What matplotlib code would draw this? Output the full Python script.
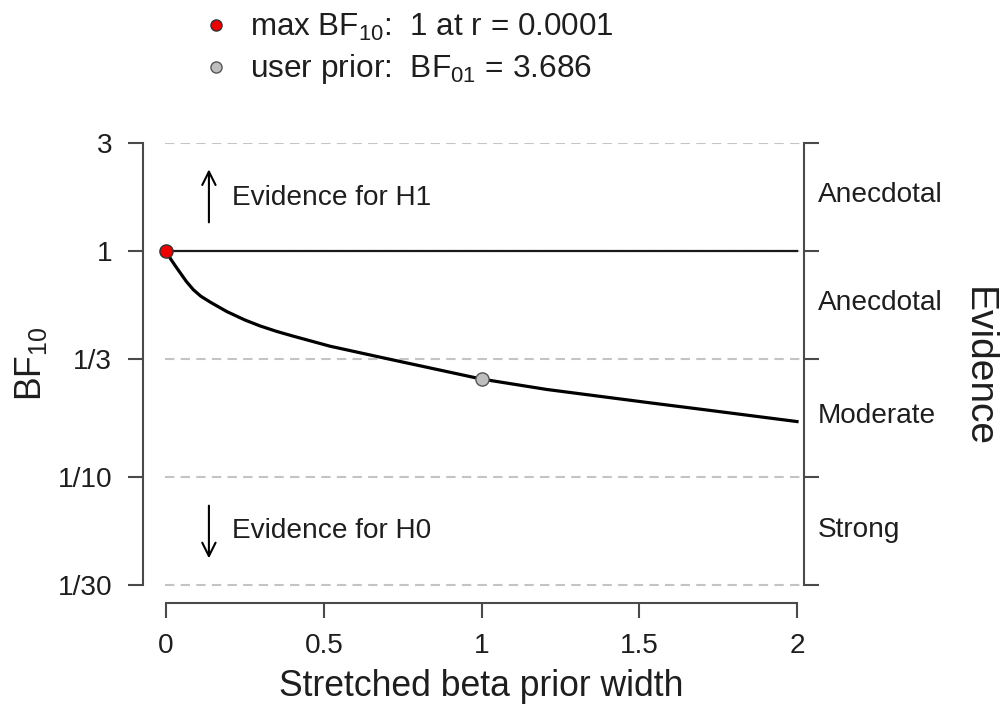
import numpy as np
import matplotlib
matplotlib.use("Agg")
from matplotlib import pyplot as plt
from matplotlib import ticker

plt.rcParams['font.family'] = ['Liberation Sans', 'DejaVu Sans']
plt.rcParams['mathtext.fontset'] = 'custom'
plt.rcParams['mathtext.rm'] = 'Liberation Sans'
plt.rcParams['mathtext.it'] = 'Liberation Sans:italic'

# data
prior_width = [0, 0.015, 0.03, 0.044, 0.065, 0.087, 0.11, 0.14, 0.192, 0.25,
               0.298, 0.35, 0.403, 0.52, 0.70, 1.0, 1.207, 1.534, 1.714, 2.0]
bf10 = [1.0, 0.920, 0.857, 0.804, 0.731, 0.673, 0.631, 0.594, 0.540, 0.495,
        0.466, 0.441, 0.420, 0.379, 0.334, 0.2713, 0.244, 0.213, 0.198, 0.176]
max_r = 0.0001
max_bf = 1.0
user_r = 1.0
user_bf01 = 3.686

y_ticks = [3, 1, 1/3, 1/10, 1/30]
y_labels = ['3', '1', '1/3', '1/10', '1/30']
x_ticks = [0, 0.5, 1, 1.5, 2]
x_labels = ['0', '0.5', '1', '1.5', '2']
evidence_labels = ['Anecdotal', 'Anecdotal', 'Moderate', 'Strong']

TXT = '#1e1e1e'
AX = '#4a4a4a'
FS = 20.2

fig = plt.figure(figsize=(10.04, 7.04), dpi=100)
W, H = 1004, 704
left, right, top, bottom = 142.7, 804, 143, 602.7
ax = fig.add_axes([left / W, 1 - bottom / H, (right - left) / W, (bottom - top) / H])

ax.set_yscale('log')
px_x = 2 / (797 - 166)
ax.set_xlim(0 - (166 - left) * px_x, 2 + (right - 797) * px_x)
ppd = (585 - 143) / np.log10(3 * 30)
ax.set_ylim(10 ** (np.log10(1/30) - (bottom - 585) / ppd), 3)

# reference lines
for yv in y_ticks:
    ax.plot([-0.003, 2.01], [yv, yv], color='#c4c4c4', lw=1.5,
            linestyle=(0, (4.5, 3)), zorder=1)

ax.plot([0, 2], [1, 1], color='#1a1a1a', lw=1.6, zorder=2)
ax.plot(prior_width, bf10, color='black', lw=2.3, zorder=3,
        solid_joinstyle='round')
ax.plot(max_r, max_bf, 'o', ms=9.5, mfc='#ee0000', mec='#333333', mew=1, zorder=5)
ax.plot(user_r, 1 / user_bf01, 'o', ms=9.5, mfc='#bebebe', mec='#555555', mew=1, zorder=5)

# spines / ticks
ax.spines['top'].set_visible(False)
for s in ['left', 'right', 'bottom']:
    ax.spines[s].set_color(AX)
    ax.spines[s].set_linewidth(1.5)
ax.spines['left'].set_bounds(1/30, 3)
ax.spines['right'].set_bounds(1/30, 3)
ax.spines['bottom'].set_bounds(0, 2)

ax.minorticks_off()
ax.yaxis.set_minor_locator(ticker.NullLocator())
ax.set_yticks(y_ticks)
ax.set_yticklabels(y_labels)
ax.set_xticks(x_ticks)
ax.set_xticklabels(x_labels)
ax.tick_params(axis='y', which='major', left=True, right=True, length=11,
               width=1.5, color=AX, labelsize=FS, labelcolor=TXT, pad=11)
ax.tick_params(axis='x', which='major', length=11, width=1.5, color=AX,
               labelsize=FS, labelcolor=TXT, pad=11)

# evidence category labels on the right
for lab, hi, lo in zip(evidence_labels, y_ticks[:-1], y_ticks[1:]):
    ax.text(1.0215, np.sqrt(hi * lo) * 1.015, lab, transform=ax.get_yaxis_transform(),
            ha='left', va='center', fontsize=FS, color=TXT)

# arrows
ax.annotate('', xy=(0.136, 2.36), xytext=(0.136, 1.30),
            arrowprops=dict(arrowstyle='->', color='black', lw=1.5, mutation_scale=24))
ax.annotate('', xy=(0.136, 0.0425), xytext=(0.136, 0.0769),
            arrowprops=dict(arrowstyle='->', color='black', lw=1.5, mutation_scale=24))
ax.text(0.209, 1.71, 'Evidence for H1', fontsize=FS, color=TXT, ha='left', va='center')
ax.text(0.209, 0.058, 'Evidence for H0', fontsize=FS, color=TXT, ha='left', va='center')

# axis titles
fig.text(481.5 / W, 1 - 687 / H, 'Stretched beta prior width', fontsize=25.6,
         color=TXT, ha='center', va='center')
fig.text(31 / W, 1 - 364 / H, r'BF$_{10}$', fontsize=25.6, color=TXT,
         rotation=90, ha='center', va='center')
fig.text(978 / W, 1 - 367 / H, 'Evidence', fontsize=28, color=TXT,
         rotation=270, ha='center', va='center')

# legend on top
fig.lines.append(plt.Line2D([216 / W], [1 - 25 / H], marker='o', ms=8, mfc='#ee0000',
                            mec='#333333', mew=1, transform=fig.transFigure))
fig.lines.append(plt.Line2D([216 / W], [1 - 67 / H], marker='o', ms=8, mfc='#bebebe',
                            mec='#555555', mew=1, transform=fig.transFigure))
fig.text(250 / W, 1 - 27 / H, r'max BF$_{10}$:  1 at r = 0.0001', fontsize=22.6,
         color=TXT, ha='left', va='center')
fig.text(250 / W, 1 - 69 / H, r'user prior:  BF$_{01}$ = 3.686', fontsize=22.8,
         color=TXT, ha='left', va='center')

fig.savefig('out.png', dpi=100)
